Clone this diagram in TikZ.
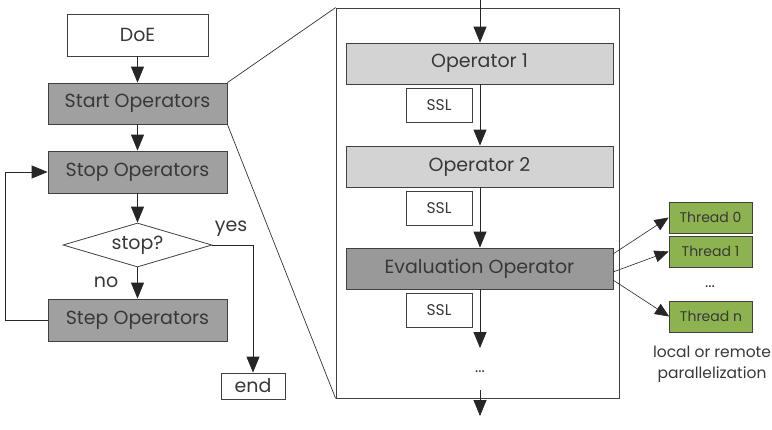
\documentclass[tikz,border=0pt]{standalone}
\usepackage{fontspec}
\setmainfont{Poppins}
\usetikzlibrary{arrows.meta,shapes.geometric}
\definecolor{dgray}{HTML}{A0A0A0}
\definecolor{lgray}{HTML}{D3D3D3}
\definecolor{egray}{HTML}{999999}
\definecolor{tgreen}{HTML}{8DB350}
\definecolor{txt}{HTML}{383838}
\definecolor{edge}{HTML}{404040}
\tikzset{
  box/.style={draw=edge, line width=0.8pt, text=txt, inner sep=0pt, font=\fontsize{19}{22}\selectfont},
  wbox/.style={box, fill=white},
  gbox/.style={box, fill=dgray},
  obox/.style={box, fill=lgray},
  ebox/.style={box, fill=egray},
  sslbox/.style={box, fill=white, font=\fontsize{15.5}{18}\selectfont, minimum width=66pt, minimum height=34pt},
  thbox/.style={box, fill=tgreen, font=\fontsize{14}{16}\selectfont, minimum width=83pt, minimum height=31pt},
  arr/.style={line width=0.8pt, draw=black!85, -{Triangle[length=16pt,width=13pt]}},
  tarr/.style={line width=0.6pt, draw=black!85, -{Triangle[length=14pt,width=12pt]}},
  ln/.style={line width=0.7pt, draw=black!80},
  lbl/.style={text=txt, inner sep=0pt, font=\fontsize{19}{22}\selectfont},
  slbl/.style={text=txt, inner sep=0pt, font=\fontsize{15.5}{18}\selectfont}
}
\begin{document}
\begin{tikzpicture}[x=1pt,y=-1pt]
\useasboundingbox (0,0) rectangle (772,429);
% left flowchart
\node[wbox, minimum width=141pt, minimum height=42pt] (doe) at (137.5,35) {DoE};
\node[gbox, minimum width=179pt, minimum height=41pt] (start) at (137.5,103.5) {Start Operators};
\node[gbox, minimum width=179pt, minimum height=42pt] (stop) at (137.5,172) {Stop Operators};
\node[draw=edge, line width=0.8pt, fill=white, shape=diamond, aspect=3.4, inner sep=0pt, minimum width=149pt, minimum height=44pt, text=txt, font=\fontsize{19}{22}\selectfont] (dec) at (137.5,245) {stop?};
\node[gbox, minimum width=179pt, minimum height=42pt] (stepop) at (137.5,320) {Step Operators};
\node[wbox, minimum width=64pt, minimum height=26pt] (endn) at (253,386) {end};
\coordinate (loopA) at (5,320);
\coordinate (loopB) at (5,172);
\coordinate (yesA) at (253,245);
\draw[arr] (doe) -- (start);
\draw[arr] (start) -- (stop);
\draw[arr] (stop) -- (dec);
\draw[arr] (dec) -- (stepop);
\draw[arr] (stepop.west) -- (loopA) -- (loopB) -- (stop.west);
\draw[arr] (dec.east) -- (yesA) -- (endn.north);
\node[lbl] (yes) at (231,229) {yes};
\node[lbl] (no) at (106,282) {no};
% zoom box
\node[draw=edge, line width=0.8pt, minimum width=283pt, minimum height=390pt, inner sep=0pt] (big) at (477.5,203) {};
\draw[ln] (start.north east) -- (big.north west);
\draw[ln] (start.south east) -- (big.south west);
\node[obox, minimum width=267pt, minimum height=41pt] (op1) at (479.5,63.5) {Operator 1};
\node[obox, minimum width=267pt, minimum height=41pt] (op2) at (479.5,166.5) {Operator 2};
\node[ebox, minimum width=267pt, minimum height=41pt] (ev) at (479.5,268.5) {Evaluation Operator};
\node[sslbox] (ssl1) at (439,105) {SSL};
\node[sslbox] (ssl2) at (439,208) {SSL};
\node[sslbox] (ssl3) at (439,310.5) {SSL};
\coordinate (topin) at (480,0);
\coordinate (evout) at (480,348);
\node[slbl] (dots) at (480,372) {...};
\coordinate (botA) at (480,390);
\coordinate (botB) at (480,416);
\draw[arr] (topin) -- (op1.north -| topin);
\draw[arr] (op1.south -| topin) -- (op2.north -| topin);
\draw[arr] (op2.south -| topin) -- (ev.north -| topin);
\draw[arr] (ev.south -| topin) -- (evout);
\draw[arr] (botA) -- (botB);
% threads
\node[thbox] (t0) at (710.5,217.5) {Thread 0};
\node[thbox] (t1) at (710.5,251.5) {Thread 1};
\node[slbl] (tdots) at (710,287) {...};
\node[thbox] (tn) at (711,316.5) {Thread n};
\coordinate (e0) at (613,254);
\coordinate (e1) at (613,272);
\coordinate (e2) at (613,280);
\draw[tarr] (e0) -- (t0.west);
\draw[tarr] (e1) -- (t1.west);
\draw[tarr] (e2) -- (tn.west);
\node[slbl, align=center] (par) at (712,364) {local or remote\\[3pt]parallelization};
\end{tikzpicture}
\end{document}
